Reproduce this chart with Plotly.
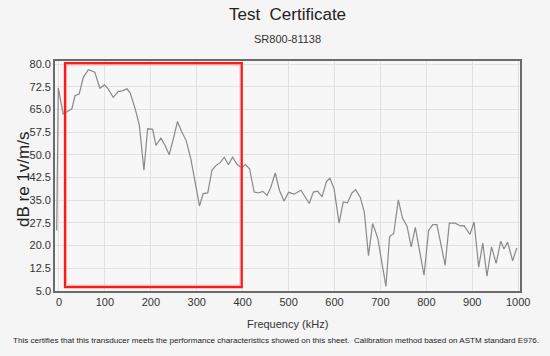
import plotly.graph_objects as go

# Frequency (kHz) and response (dB re 1V/(m/s))
freq_khz = [-5, -1.5, 9, 17, 28, 35, 44, 53, 64, 78, 89, 99, 107, 118, 129, 139, 148, 155,
            166, 175, 185, 193, 204, 211, 222, 231, 240, 249, 258, 267, 277, 287, 296, 306,
            314, 324, 333, 342, 351, 360, 369, 378, 388, 398, 406, 415, 425, 434, 444, 453,
            461, 471, 480, 490, 500, 512, 527, 536, 545, 554, 563, 573, 582, 590, 599, 610,
            619, 628, 638, 646, 656, 665, 674, 683, 694, 712, 720, 729, 739, 748, 758, 767,
            776, 795, 805, 814, 823, 841, 850, 863, 874, 882, 895, 904, 914, 923, 932, 942,
            952, 962, 969, 977, 988, 997]
response_db = [25, 72.1, 63.5, 64.3, 65.2, 69.6, 70.1, 75.6, 78.1, 77.3, 72.0, 73.1, 71.8,
               69.0, 70.9, 71.2, 71.8, 70.5, 65.2, 59.7, 44.9, 58.6, 58.4, 53.1, 55.5, 53.1,
               50.0, 55.3, 61.0, 57.7, 54.7, 48.7, 41.0, 33.1, 37.2, 37.4, 44.9, 46.5, 47.4,
               49.2, 46.7, 49.2, 46.8, 45.7, 46.8, 45.4, 37.7, 37.4, 37.9, 36.6, 39.1, 44.0,
               38.3, 34.7, 37.6, 37.0, 38.3, 36.1, 33.9, 37.7, 38.0, 36.1, 41.0, 42.3, 38.8,
               27.4, 34.4, 34.1, 37.4, 38.5, 36.0, 31.0, 16.7, 27.3, 22.6, 6.5, 23.0, 24.0,
               35.1, 29.1, 26.4, 19.6, 26.0, 10.2, 25.0, 26.9, 26.9, 13.5, 27.4, 27.4, 26.5,
               26.6, 23.7, 27.8, 12.9, 20.8, 9.9, 19.6, 14.1, 21.5, 18.9, 21.1, 15.0, 19.2]

x_ticks = [0, 100, 200, 300, 400, 500, 600, 700, 800, 900, 1000]
y_ticks = [5.0, 12.5, 20.0, 27.5, 35.0, 42.5, 50.0, 57.5, 65.0, 72.5, 80.0]

# Highlighted region (kHz, dB)
box_x = [13, 398]
box_y = [6.3, 80.3]

title_text = "Test\u00a0 Certificate"
subtitle_text = "SR800-81138"
x_title = "Frequency (kHz)"
y_title = "dB re 1v/m/s"
footer_text = ("This certifies that this transducer meets the performance characteristics "
               "showed on this sheet.\u00a0 Calibration method based on ASTM standard E976.")

FONT = "Liberation Sans, Arial, sans-serif"

fig = go.Figure()
fig.add_trace(go.Scatter(x=freq_khz, y=response_db, mode="lines",
                         line=dict(color="#8a8a8a", width=1.2), hoverinfo="skip",
                         showlegend=False))

fig.add_shape(type="rect", xref="x", yref="y", x0=box_x[0], x1=box_x[1],
              y0=box_y[0], y1=box_y[1], line=dict(color="#ff1a1a", width=2.2))
fig.add_shape(type="rect", xref="x", yref="y", x0=box_x[0] + 3.5, x1=box_x[1] - 3.5,
              y0=box_y[0] + 0.6, y1=box_y[1] - 0.6,
              line=dict(color="rgba(255,120,120,0.6)", width=1))

fig.update_layout(
    width=550, height=356,
    margin=dict(l=55, r=30, t=61, b=65, autoexpand=False),
    paper_bgcolor="#f5f5f5", plot_bgcolor="#f7f7f7",
    font=dict(family=FONT, color="#333333", size=11),
    title=dict(text=title_text, x=0.5, xanchor="center", xref="paper",
               y=1 - 14 / 356, yanchor="middle", yref="container",
               font=dict(size=17, color="#222222", family=FONT)),
    xaxis=dict(range=[-8.7, 1004], tickvals=x_ticks, ticktext=[str(v) for v in x_ticks],
               showgrid=True, gridcolor="#e2e2e2", gridwidth=1, zeroline=False,
               showline=True, linecolor="#6a6a6a", linewidth=1.6, mirror=True,
               ticks="", automargin=False, tickfont=dict(size=11, color="#333333")),
    yaxis=dict(range=[5, 81], tickvals=y_ticks, ticktext=[f"{v:.1f}" for v in y_ticks],
               showgrid=True, gridcolor="#e2e2e2", gridwidth=1, zeroline=False,
               showline=True, linecolor="#6a6a6a", linewidth=1.6, mirror=True,
               ticks="", automargin=False, tickfont=dict(size=11, color="#333333")),
    annotations=[
        dict(text=subtitle_text, xref="paper", yref="paper", x=0.5, y=(291 - 39) / 230,
             xanchor="center", yanchor="middle", showarrow=False,
             font=dict(size=11, color="#333333", family=FONT)),
        dict(text=x_title, xref="paper", yref="paper", x=0.5, y=(291 - 324) / 230,
             xanchor="center", yanchor="middle", showarrow=False,
             font=dict(size=11, color="#333333", family=FONT)),
        dict(text=y_title, xref="paper", yref="paper", x=(23 - 55) / 465, y=(291 - 180) / 230,
             xanchor="center", yanchor="middle", showarrow=False, textangle=-90,
             font=dict(size=17, color="#222222", family=FONT)),
        dict(text=footer_text, xref="paper", yref="paper", x=(276 - 55) / 465,
             y=(291 - 340) / 230, xanchor="center", yanchor="middle", showarrow=False,
             font=dict(size=8.1, color="#222222", family=FONT)),
    ],
)

fig.write_html("out.html", config={"displayModeBar": False},
               post_script="document.body.style.margin='0';document.body.style.overflow='hidden';")
